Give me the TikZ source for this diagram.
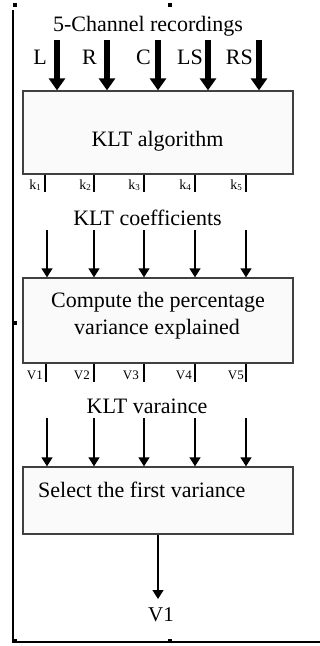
\documentclass[tikz,border=0pt]{standalone}
\usepackage{fontspec}
\setmainfont{Liberation Serif}
\usetikzlibrary{arrows.meta}
\tikzset{
  procbox/.style={draw=black!75, line width=1.3pt, fill=black!2, inner sep=0pt},
  bigtext/.style={font=\fontsize{22}{27}\selectfont, inner sep=0pt, anchor=base},
  chlabel/.style={font=\fontsize{22}{27}\selectfont, inner sep=0pt, anchor=base east},
  klabel/.style={font=\fontsize{14}{14}\selectfont, inner sep=0pt, anchor=base east},
  vlabel/.style={font=\fontsize{13}{13}\selectfont, inner sep=0pt, anchor=base east},
  thickarrow/.style={line width=6pt, -{Triangle[length=12pt,width=16pt]}},
  thinarrow/.style={line width=1.4pt, -{Triangle[length=9pt,width=11pt]}},
  tickline/.style={line width=1.4pt},
  frameline/.style={line width=1.4pt},
  handle/.style={fill=black}
}
\newcommand{\kk}[1]{k{\fontsize{9}{9}\selectfont\raisebox{-1.5pt}{#1}}}
\begin{document}
\begin{tikzpicture}[x=1pt,y=-1pt]
\useasboundingbox (0,0) rectangle (320,646);
% frame
\draw[frameline] (13,10) -- (13,642) -- (320,642);
\foreach \hx/\hy in {14.5/4.5,170/4.5,14.5/322.5,14.5/641,170/641}
  \fill[handle] (\hx-2,\hy-2) rectangle (\hx+2,\hy+2);
% boxes
\node[procbox, minimum width=270pt, minimum height=83pt] (box1) at (158,132.5) {};
\node[procbox, minimum width=270pt, minimum height=85pt] (box2) at (158,320.5) {};
\node[procbox, minimum width=270pt, minimum height=67pt] (box3) at (158,500.5) {};
% texts
\node[bigtext] (title) at (148,31) {5-Channel recordings};
\node[bigtext] (klt) at (157.5,146) {KLT algorithm};
\node[bigtext] (coef) at (147.5,225) {KLT coefficients};
\node[bigtext] (comp1) at (158,307) {Compute the percentage};
\node[bigtext] (comp2) at (157,334) {variance explained};
\node[bigtext] (var) at (147,413) {KLT varaince};
\node[bigtext, anchor=base west] (sel) at (38,497) {Select the first variance};
\node[font=\fontsize{21}{21}\selectfont, inner sep=0pt, anchor=base] (out) at (161,621) {V1};
% channel labels
\node[chlabel] (cL) at (47,64) {L};
\node[chlabel] (cR) at (97,64) {R};
\node[chlabel] (cC) at (151,64) {C};
\node[chlabel] (cLS) at (203,64) {LS};
\node[chlabel] (cRS) at (253,64) {RS};
% thick input arrows
\foreach \i/\x in {1/57,2/107,3/158,4/208,5/259} {
  \coordinate (a\i) at (\x,40);
  \draw[thickarrow] (a\i) -- (a\i |- box1.north);
}
% k labels and ticks
\foreach \i/\lx/\tx in {1/41/45,2/91/94,3/140/144,4/191/195,5/242/246} {
  \node[klabel] (k\i) at (\lx,189) {\kk{\i}};
  \coordinate (kt\i) at (\tx,192);
  \draw[tickline] (kt\i |- box1.south) -- (kt\i);
}
% thin arrows into box2
\foreach \i/\x in {1/47,2/94,3/144,4/195,5/246} {
  \coordinate (b\i) at (\x,230);
  \draw[thinarrow] (b\i) -- (b\i |- box2.north);
}
% V labels and ticks
\foreach \i/\lx/\tx in {1/43/46,2/90/94,3/139/144,4/192/195,5/244/246} {
  \node[vlabel] (v\i) at (\lx,379) {V\i};
  \coordinate (vt\i) at (\tx,382);
  \draw[tickline] (vt\i |- box2.south) -- (vt\i);
}
% thin arrows into box3
\foreach \i/\x in {1/47,2/94,3/144,4/195,5/246} {
  \coordinate (c\i) at (\x,418);
  \draw[thinarrow] (c\i) -- (c\i |- box3.north);
}
% output arrow
\coordinate (outtip) at (158,599);
\draw[thinarrow] (box3.south -| outtip) -- (outtip);
\end{tikzpicture}
\end{document}
